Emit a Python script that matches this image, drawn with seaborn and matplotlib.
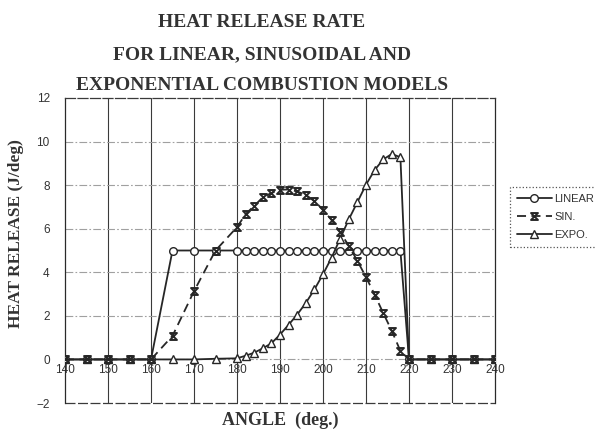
import matplotlib
matplotlib.use("Agg")
import matplotlib.pyplot as plt
import seaborn as sns
from matplotlib.path import Path

# Crank angle samples (deg) and heat release rate (J/deg) for each model
linear_angle = [140, 145, 150, 155, 160, 165, 170, 175, 180, 182, 184, 186, 188,
                190, 192, 194, 196, 198, 200, 202, 204, 206, 208, 210, 212, 214,
                216, 218, 220, 225, 230, 235, 240]
linear_hr = [0, 0, 0, 0, 0, 5, 5, 5, 5, 5, 5, 5, 5,
             5, 5, 5, 5, 5, 5, 5, 5, 5, 5, 5, 5, 5,
             5, 5, 0, 0, 0, 0, 0]

sin_angle = [140, 145, 150, 155, 160, 165, 170, 175, 180, 182, 184, 186, 188,
             190, 192, 194, 196, 198, 200, 202, 204, 206, 208, 210, 212, 214,
             216, 218, 220, 225, 230, 235, 240]
sin_hr = [0, 0, 0, 0, 0, 1.08, 3.13, 5.0, 6.07, 6.67, 7.05, 7.44, 7.64,
          7.79, 7.80, 7.71, 7.55, 7.27, 6.87, 6.40, 5.83, 5.22, 4.52, 3.78, 2.98, 2.13,
          1.31, 0.39, 0, 0, 0, 0, 0]

expo_angle = [140, 145, 150, 155, 160, 165, 170, 175, 180, 182, 184, 186, 188,
              190, 192, 194, 196, 198, 200, 202, 204, 206, 208, 210, 212, 214,
              216, 218, 220, 225, 230, 235, 240]
expo_hr = [0, 0, 0, 0, 0, 0, 0, 0.03, 0.05, 0.17, 0.31, 0.51, 0.74,
           1.14, 1.59, 2.06, 2.59, 3.21, 3.91, 4.67, 5.55, 6.43, 7.22, 8.02, 8.69, 9.18,
           9.43, 9.28, 0, 0, 0, 0, 0]

series_labels = ["LINEAR", "SIN.", "EXPO."]
x_ticks = list(range(140, 241, 10))
y_ticks = list(range(-2, 13, 2))

title_lines = ["HEAT RELEASE RATE",
               "FOR LINEAR, SINUSOIDAL AND",
               "EXPONENTIAL COMBUSTION MODELS"]

sns.set_style("white")
plt.rcParams["font.family"] = ["Liberation Sans", "DejaVu Sans"]

W, H = 595, 430
fig = plt.figure(figsize=(W / 100, H / 100), dpi=100)
ax = fig.add_axes([65 / W, 1 - 403 / H, 430 / W, 305 / H])

ink = "#262626"

# hourglass marker for the sinusoidal model
hourglass = Path([(-1, 1), (1, 1), (-1, -1), (1, -1), (-1, 1)],
                 [Path.MOVETO, Path.LINETO, Path.LINETO, Path.LINETO, Path.CLOSEPOLY])

sns.lineplot(x=linear_angle, y=linear_hr, ax=ax, color=ink, linewidth=1.3,
             marker="o", markersize=5.5, markerfacecolor="white",
             markeredgecolor=ink, markeredgewidth=1.0,
             label=series_labels[0], estimator=None, sort=False, zorder=3)
sns.lineplot(x=expo_angle, y=expo_hr, ax=ax, color=ink, linewidth=1.3,
             marker="^", markersize=5.5, markerfacecolor="white",
             markeredgecolor=ink, markeredgewidth=1.0,
             label=series_labels[2], estimator=None, sort=False, zorder=4)
sns.lineplot(x=sin_angle, y=sin_hr, ax=ax, color=ink, linewidth=1.3,
             linestyle=(0, (5, 3)),
             marker=hourglass, markersize=5, markerfacecolor="none",
             markeredgecolor=ink, markeredgewidth=1.4,
             label=series_labels[1], estimator=None, sort=False, zorder=5)

ax.set_xlim(140, 240)
ax.set_ylim(-2, 12)
ax.set_xticks(x_ticks)
ax.set_yticks(y_ticks)

# grid: solid verticals, dash-dot horizontals
for xv in x_ticks[1:-1]:
    ax.axvline(xv, color="#3a3a3a", linewidth=0.8, zorder=1)
for yv in y_ticks[1:-1]:
    ax.axhline(yv, color="#a0a0a0", linewidth=0.8,
               linestyle=(0, (7, 2, 1.5, 2)), zorder=1)

for side in ["left", "right"]:
    ax.spines[side].set_color("#2a2a2a")
    ax.spines[side].set_linewidth(0.9)
ax.spines["top"].set_color("#3a3a3a")
ax.spines["top"].set_linestyle((0, (8, 2)))
ax.spines["top"].set_linewidth(0.9)

# x-axis labels sit on the zero line; frame bottom drawn separately at -2
ax.spines["bottom"].set_position(("data", 0))
ax.spines["bottom"].set_visible(False)
ax.axhline(-2, color="#3a3a3a", linewidth=0.9, linestyle=(0, (8, 2)),
           clip_on=False, zorder=2)

ax.tick_params(axis="x", length=0, pad=3, labelsize=8.5, labelcolor="#333333")
ax.tick_params(axis="y", length=0, pad=11, labelsize=8.5, labelcolor="#333333")

ax.set_xlabel("ANGLE  (deg.)", family="Liberation Serif", weight="bold",
              size=13, color="#333333")
ax.xaxis.set_label_coords(0.5, -0.03)
ax.set_ylabel("HEAT RELEASE (J/deg)", family="Liberation Serif", weight="bold",
              size=12.5, color="#333333")
ax.yaxis.set_label_coords(-0.096, 0.554)

baselines = [27, 59, 90]
for line, yb in zip(title_lines, baselines):
    fig.text(262 / W, 1 - yb / H, line, ha="center", va="baseline",
             family="Liberation Serif", weight="bold", size=14, color="#333333")

handles, labels = ax.get_legend_handles_labels()
order = [labels.index(l) for l in series_labels]
leg = ax.legend([handles[i] for i in order], [labels[i] for i in order],
                loc="upper left", bbox_to_anchor=(510 / W, 1 - 187 / H),
                bbox_transform=fig.transFigure, fontsize=8,
                handlelength=3.2, handletextpad=0.2, labelspacing=0.75,
                borderpad=0.6, fancybox=False, framealpha=1, borderaxespad=0)
leg.get_frame().set_edgecolor("#555555")
leg.get_frame().set_linestyle(":")
leg.get_frame().set_linewidth(0.9)
for t in leg.get_texts():
    t.set_color("#333333")

fig.savefig("out.png", dpi=100)
